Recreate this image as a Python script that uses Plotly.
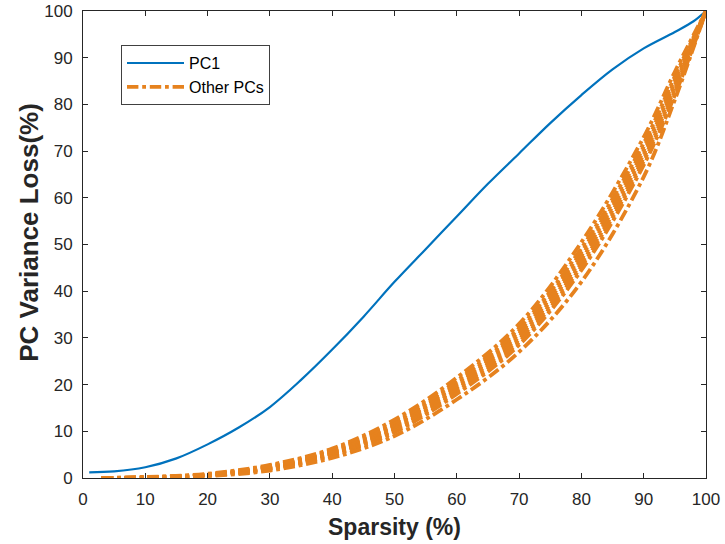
import plotly.graph_objects as go

# PC1 curve
pc1_x = [1, 5, 10, 15, 20, 25, 30, 35, 40, 45, 50, 55, 60, 65, 70, 75, 80, 85, 90, 95, 98, 100]
pc1_y = [1.2, 1.4, 2.3, 4.2, 7.2, 10.8, 15.2, 21.0, 27.5, 34.5, 42.0, 49.0, 56.0, 63.0,
         69.5, 76.0, 82.0, 87.5, 92.0, 95.5, 97.8, 100]

# Other PCs (a bundle of curves)
other_x = [3, 10, 20, 30, 40, 50, 60, 70, 80, 90, 95, 100]
other_a = [0, 0.05, 0.5, 1.9, 4.8, 9.8, 18.0, 28.5, 44.5, 67.0, 82.0, 100]
other_b = [0, 0.07, 0.55, 2.0, 5.0, 10.2, 18.5, 29.1, 45.3, 67.8, 82.7, 100]
other_c = [0, 0.09, 0.6, 2.1, 5.2, 10.5, 19.0, 29.7, 46.0, 68.5, 83.3, 100]
other_d = [0, 0.11, 0.65, 2.2, 5.4, 10.9, 19.4, 30.3, 46.8, 69.3, 84.0, 100]
other_e = [0, 0.13, 0.7, 2.35, 5.6, 11.2, 19.9, 30.9, 47.6, 70.1, 84.6, 100]
other_f = [0, 0.15, 0.75, 2.45, 5.8, 11.5, 20.3, 31.5, 48.4, 70.9, 85.3, 100]
other_g = [0, 0.17, 0.8, 2.55, 6.0, 11.9, 20.8, 32.1, 49.2, 71.7, 86.0, 100]
other_h = [0, 0.2, 0.9, 2.8, 6.3, 12.5, 21.5, 33.0, 50.5, 73.0, 87.0, 100]
other_low = [0, 0.02, 0.4, 1.6, 4.3, 9.0, 16.8, 27.0, 42.0, 64.5, 81.0, 100]

ticks = [0, 10, 20, 30, 40, 50, 60, 70, 80, 90, 100]

BLUE = '#0072BD'
ORANGE = '#E6821E'
AXIS = '#262626'
FONT = 'Liberation Sans, Arial'

fig = go.Figure()
fig.add_trace(go.Scatter(
    x=pc1_x, y=pc1_y, mode='lines', name='PC1',
    line=dict(color=BLUE, width=2.2, shape='spline'),
))

others = [other_a, other_b, other_c, other_d, other_e, other_f, other_g, other_h, other_low]
for i, ys in enumerate(others):
    fig.add_trace(go.Scatter(
        x=other_x, y=ys, mode='lines', name='Other PCs',
        legendgroup='other', showlegend=(i == 0),
        line=dict(color=ORANGE, width=3.8, dash='dashdot', shape='spline'),
    ))

axis_style = dict(
    range=[0, 100], tickvals=ticks, ticks='inside', ticklen=5, tickcolor=AXIS,
    showline=True, linecolor=AXIS, linewidth=1, mirror='ticks',
    showgrid=False, zeroline=False, automargin=False,
    tickfont=dict(family=FONT, size=17, color=AXIS),
)

fig.update_layout(
    width=725, height=544,
    margin=dict(l=83, r=19, t=11, b=66),
    plot_bgcolor='white', paper_bgcolor='white',
    xaxis=dict(axis_style, ticklabelstandoff=6),
    yaxis=dict(axis_style, ticklabelstandoff=6),
    legend=dict(x=0.061, y=0.927, xanchor='left', yanchor='top',
                bordercolor='#404040', borderwidth=1, bgcolor='white',
                itemwidth=57,
                font=dict(family=FONT, size=16, color='#000000'),
                tracegroupgap=0),
    showlegend=True,
)

# axis titles placed as annotations
fig.add_annotation(text='<b>Sparsity (%)</b>', xref='paper', yref='paper',
                   x=0.5, y=0, yanchor='middle', yshift=-49, showarrow=False,
                   font=dict(family=FONT, size=23, color=AXIS))
fig.add_annotation(text='<b>PC Variance Loss(%)</b>', xref='paper', yref='paper',
                   x=0, y=0.525, xanchor='center', xshift=-54, textangle=-90, showarrow=False,
                   font=dict(family=FONT, size=26, color=AXIS))

# drop the page's default body margin so the figure sits at the window's corner
fig.write_html("out.html", config={'displayModeBar': False},
               post_script="document.body.style.margin='0';")
